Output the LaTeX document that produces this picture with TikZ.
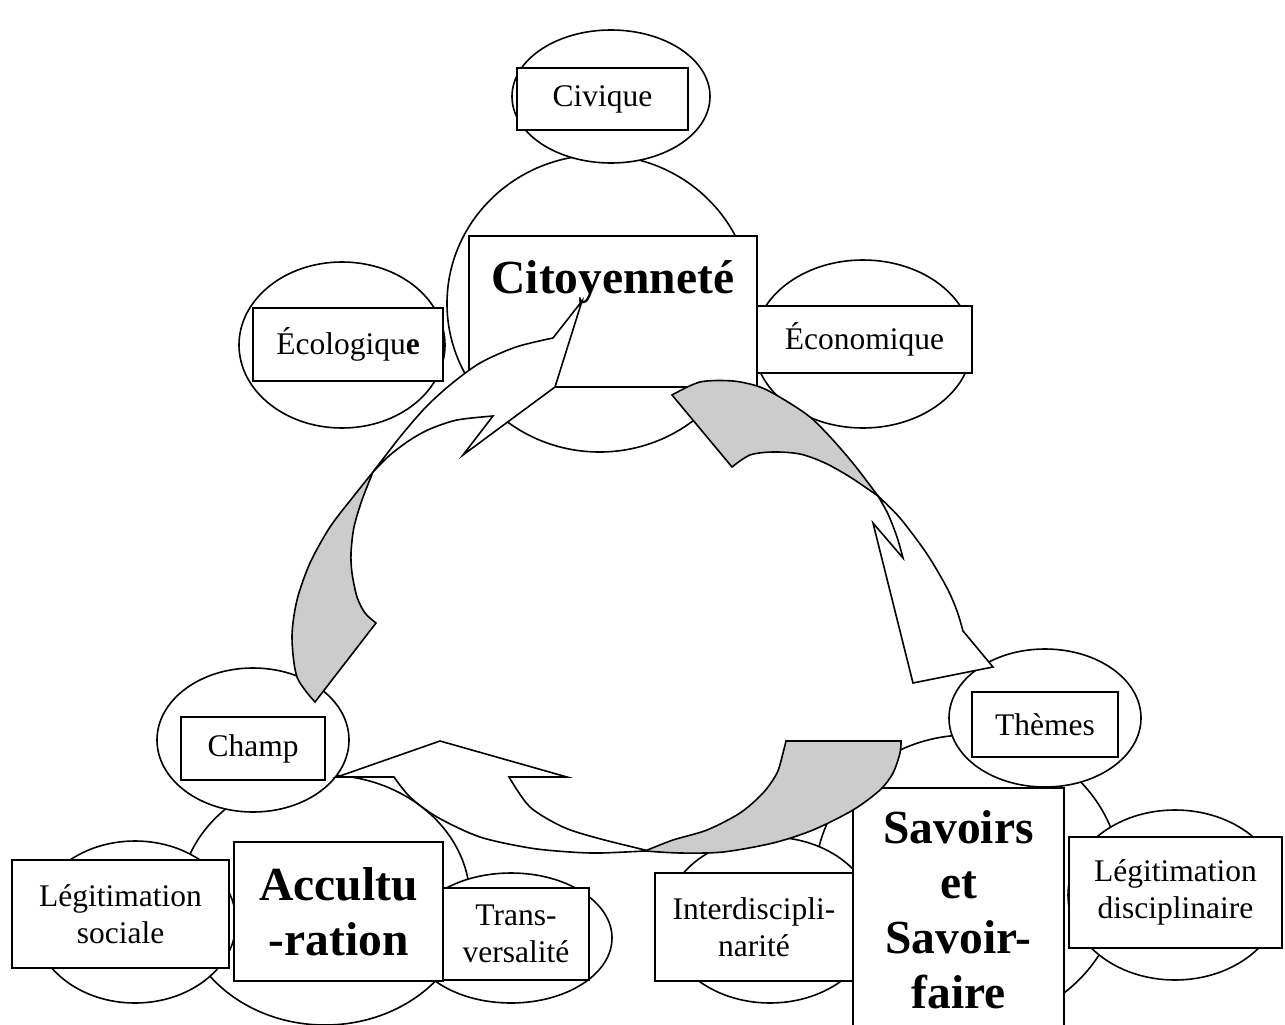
\documentclass[tikz,border=0pt]{standalone}
\usepackage{fontspec}
\setmainfont{Liberation Serif}
\usetikzlibrary{shapes.geometric}

\begin{document}
\begin{tikzpicture}[x=1pt, y=-1pt, line width=1.6pt,
	oval/.style={draw, ellipse, fill=white, inner sep=0pt},
	box/.style={draw, rectangle, fill=white, inner sep=0pt, align=center, font=\fontsize{31.5}{37.5}\selectfont},
	bigbox/.style={box, font=\fontsize{47.5}{55}\selectfont\bfseries},
	fold/.style={draw, fill=black!20},
	face/.style={draw, fill=white}]
	\useasboundingbox (0,0) rectangle (1285,1025);
	\clip (0,0) rectangle (1285,1025);
	\fill[white] (0,0) rectangle (1285,1025);

	\node[oval, minimum width=305pt, minimum height=297pt] (citO) at (599.5,303.5) {};
	\node[oval, minimum width=198pt, minimum height=133pt] (civO) at (611,96.5) {};
	\node[oval, minimum width=206pt, minimum height=166pt] (ecoloO) at (342,345) {};
	\node[oval, minimum width=218pt, minimum height=168pt] (econO) at (863,344) {};
	\node[box, minimum width=171pt, minimum height=62pt] (civ) at (602.5,99) {Civique};
	\node[box, minimum width=190pt, minimum height=73pt] (ecolo) at (348,344.5) {Écologiqu\textbf{e}};
	\node[bigbox, minimum width=288pt, text height=57pt, text depth=94pt] (cit) at (613,311.5) {Citoyenneté};
	\node[box, minimum width=215pt, minimum height=67pt] (econ) at (864.5,339.5) {Économique};

	\node[oval, minimum width=290pt, minimum height=250pt] (accO) at (325,900) {};
	\node[oval, minimum width=192pt, minimum height=144pt] (chO) at (253,740) {};
	\node[oval, minimum width=202pt, minimum height=162pt] (lsO) at (135,922) {};
	\node[oval, minimum width=202pt, minimum height=130pt] (trO) at (511,938) {};
	\node[box, minimum width=144pt, minimum height=63pt] (ch) at (253,748.5) {Champ};
	\node[box, minimum width=217pt, minimum height=108pt] (ls) at (120.5,914) {Légitimation\\sociale};
	\node[box, minimum width=146pt, minimum height=92pt] (tr) at (516,934) {Trans-\\versalité};
	\node[bigbox, minimum width=209pt, minimum height=139pt] (acc) at (338.5,911.5) {Accultu\\-ration};

	\node[oval, minimum width=306pt, minimum height=290pt] (savO) at (968,880) {};
	\node[oval, minimum width=192pt, minimum height=138pt] (thO) at (1045,718) {};
	\node[oval, minimum width=214pt, minimum height=170pt] (ldO) at (1175,895) {};
	\node[oval, minimum width=210pt, minimum height=166pt] (inO) at (770,920) {};
	\node[box, minimum width=146pt, minimum height=65pt] (th) at (1045,724.5) {Thèmes};
	\node[box, minimum width=198pt, minimum height=108pt] (in) at (754,927) {Interdiscipli-\\narité};
	\node[box, minimum width=213pt, minimum height=111pt] (ld) at (1175.5,892.5) {Légitimation\\disciplinaire};
	\node[bigbox, minimum width=211pt, minimum height=243pt] (sav) at (958.5,909.5) {Savoirs\\et\\Savoir-\\faire};

	\draw[fold] plot[smooth] coordinates {(315,702) (297,677) (292,637) (297,600) (310,563) (330,527) (353,497) (373,472)}
		-- plot[smooth] coordinates {(373,472) (362,500) (354,527) (351,553) (352,573) (357,597) (365,613) (376,623)} -- cycle;
	\draw[face] plot[smooth] coordinates {(373,472) (400,437) (425,408) (450,385) (480,363) (516,347) (553,338)}
		-- (582,301) -- (555,387) -- (463,455) -- (493,416)
		-- plot[smooth] coordinates {(493,416) (457,420) (430,429) (410,440) (390,455) (373,472)} -- cycle;

	\draw[fold] plot[smooth] coordinates {(672,395) (700,382) (733,381) (760,387) (783,399) (810,417) (833,440) (856,467) (878,496)}
		-- plot[smooth] coordinates {(878,496) (850,477) (825,463) (800,454) (773,452) (750,455) (732,467)} -- cycle;
	\draw[face] plot[smooth] coordinates {(878,496) (900,518) (927,554) (947,588) (957,611) (963,631)}
		-- (993,667) -- (913,683) -- (873,523) -- (903,558)
		-- plot[smooth] coordinates {(903,558) (897,537) (888,514) (878,496)} -- cycle;

	\draw[face] plot[smooth] coordinates {(645,851) (600,853) (570,852) (530,848) (480,837) (437,817) (410,797) (394,777)}
		-- (337,777) -- (440,741) -- (567,777) -- (509,777)
		-- plot[smooth] coordinates {(509,777) (530,807) (563,827) (597,838) (645,850)} -- cycle;
	\draw[fold] (786,741) -- (901,741)
		-- plot[smooth] coordinates {(901,741) (900,753) (893,773) (880,790) (853,810) (813,830) (773,843) (723,852) (680,853) (645,851)}
		-- plot[smooth] coordinates {(645,851) (673,840) (707,830) (740,813) (763,793) (777,773) (783,753) (786,741)} -- cycle;
\end{tikzpicture}
\end{document}
